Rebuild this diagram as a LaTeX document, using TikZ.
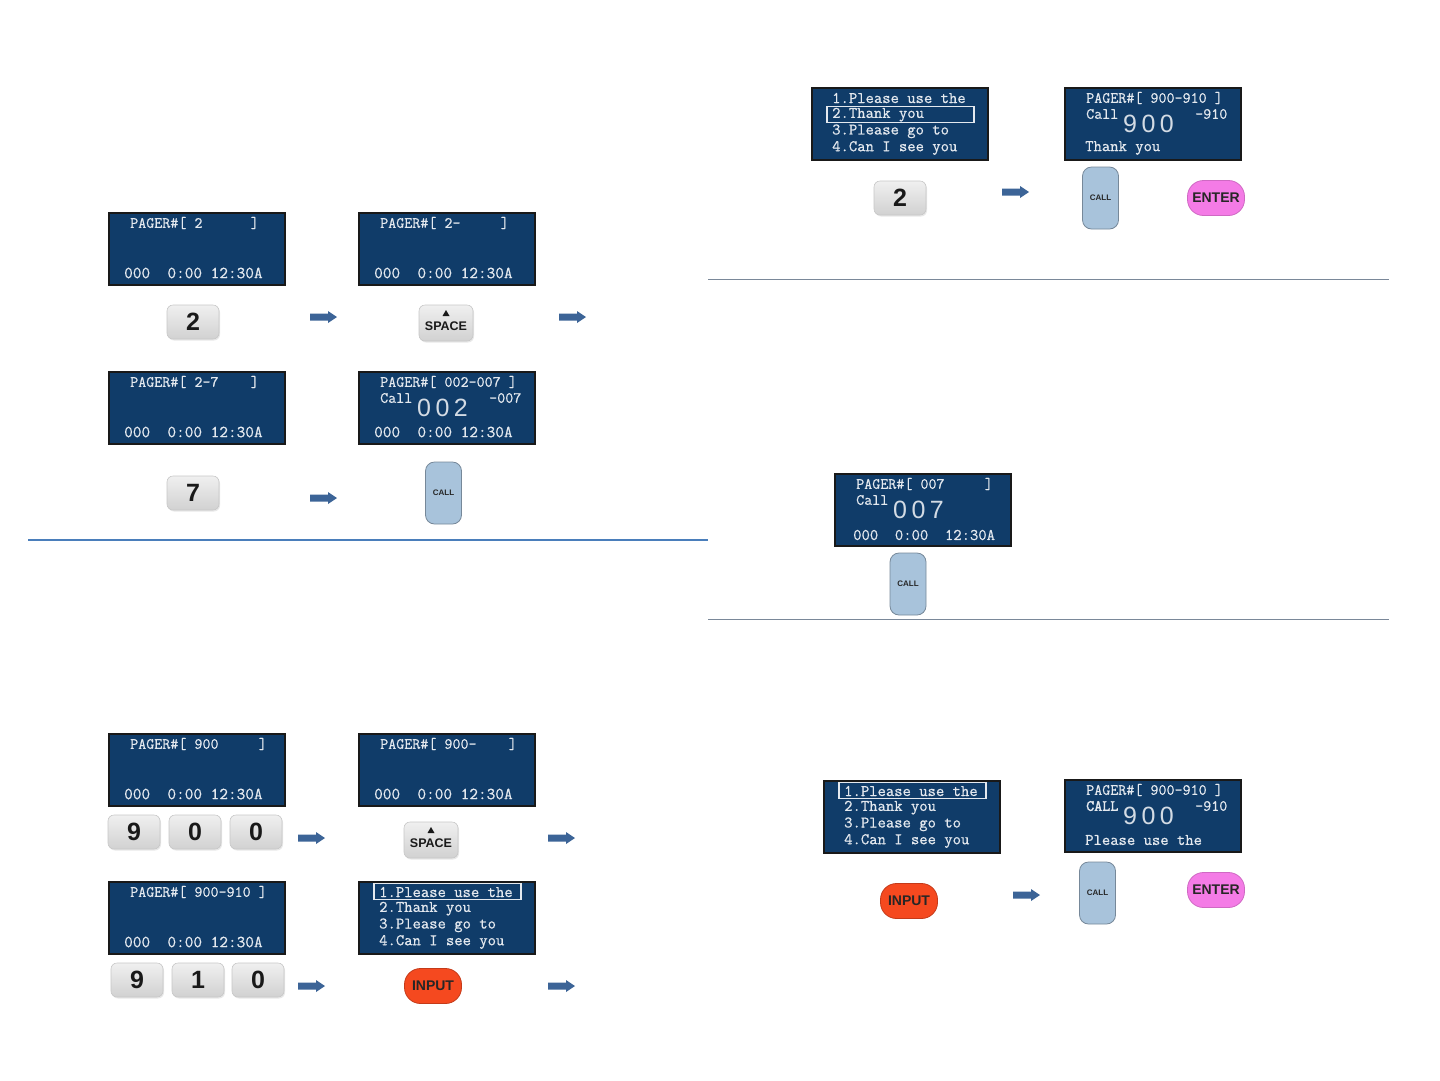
\documentclass[tikz,border=0pt]{standalone}
\usepackage{fontspec}
\usetikzlibrary{shadows}
\setmainfont{Liberation Sans}
\newfontfamily\lcdfont[FakeBold=0.6]{Latin Modern Mono}
\newfontfamily\lcdbold[FakeBold=2.2]{Latin Modern Mono}
\newfontfamily\bigfont{Liberation Sans}
\definecolor{lcdblue}{HTML}{103C69}
\definecolor{lcdtext}{HTML}{E4E9EF}
\definecolor{arrowblue}{HTML}{3C6497}
\definecolor{rulecol}{HTML}{4A7EBB}
\definecolor{thinrule}{HTML}{7A8899}
\definecolor{callblue}{HTML}{A8C3DB}
\definecolor{enterpink}{HTML}{F47BE6}
\definecolor{inputred}{HTML}{F5491F}

\tikzset{
 lcd/.style={draw=black!90, line width=1.5pt, fill=lcdblue, minimum width=176pt, minimum height=72pt, anchor=north west, inner sep=0pt},
 lcdt/.style={anchor=west, inner sep=0pt, text=lcdtext, font=\fontsize{15.6}{16}\lcdfont},
 lcdb/.style={lcdt, font=\fontsize{16.8}{17}\lcdfont},
 menut/.style={lcdt, font=\fontsize{16.2}{17}\lcdfont},
 bignum/.style={inner sep=0pt, text=lcdtext!92!lcdblue, font=\fontsize{25}{25}\bigfont},
 hl/.style={draw=lcdtext, line width=1.3pt},
 numkey/.style={rounded corners=6pt, minimum width=52pt, minimum height=34pt, top color=white!94!black, bottom color=white!82!black, draw=black!22, line width=0.6pt, drop shadow={opacity=0.18, shadow xshift=1pt, shadow yshift=-1.5pt}, font=\fontsize{25}{25}\selectfont\bfseries, text=black!90, inner sep=0pt},
 spacet/.style={inner sep=0pt, font=\fontsize{12.5}{12.5}\selectfont\bfseries, text=black!90},
 callkey/.style={rounded corners=9pt, minimum width=36pt, minimum height=62pt, fill=callblue, draw=callblue!70!black, line width=0.8pt, font=\fontsize{8}{8}\selectfont\bfseries, text=black!85, inner sep=0pt},
 pill/.style={rounded corners=16pt, minimum width=57pt, minimum height=35pt, line width=0.8pt, font=\fontsize{14}{14}\selectfont\bfseries, text=black!85, inner sep=0pt},
 enterkey/.style={pill, fill=enterpink, draw=enterpink!85!black},
 inputkey/.style={pill, fill=inputred, draw=inputred!80!black},
}

\newcommand\scrn[4]{%
 \node[lcd] (#1) at (#2,#3) {};
 \node[lcdt] (#1-t) at (#2+22,#3+11) {#4};
 \node[lcdb] (#1-b) at (#2+16,#3+61) {000~~0:00~12:30A};
}
\newcommand\callscrn[7]{%
 \node[lcd] (#1) at (#2,#3) {};
 \node[lcdt] (#1-t) at (#2+22,#3+11) {#4};
 \node[lcdt] (#1-c) at (#2+22,#3+27) {#5};
 \node[bignum] (#1-n) at (#2+84.5,#3+37) {#6};
 \node[lcdt] (#1-s) at (#2+131,#3+27) {#7};
}
\newcommand\menuscrn[4]{%
 \node[lcd] (#1) at (#2,#3) {};
 \node[menut] (#1-1) at (#2+21,#3+11) {1.Please~use~the};
 \node[menut] (#1-2) at (#2+21,#3+27.7) {2.Thank~you};
 \node[menut] (#1-3) at (#2+21,#3+44.3) {3.Please~go~to};
 \node[menut] (#1-4) at (#2+21,#3+61) {4.Can~I~see~you};
 \draw[hl] (#2+16,#3+#4*16.7-14) rectangle (#2+163,#3+#4*16.7+2);
}
\newcommand\bn[3]{#1\hspace{4.5pt}#2\hspace{4.5pt}#3}
\newcommand\rarrow[3]{%
 \coordinate (#1) at (#2,#3);
 \fill[arrowblue] (#1) ++(0,-3.5) -- ++(18,0) -- ++(0,-2.5) -- ++(9,6) -- ++(-9,6) -- ++(0,-2.5) -- ++(-18,0) -- cycle;
}
\newcommand\spacekey[3]{%
 \node[numkey, minimum width=54pt, minimum height=36pt] (#1) at (#2,#3) {};
 \fill[black!90] (#2-3.5,#3-7) -- (#2+3.5,#3-7) -- (#2,#3-13) -- cycle;
 \node[spacet] (#1-l) at (#2,#3+3.5) {SPACE};
}

\begin{document}
\begin{tikzpicture}[x=1pt,y=-1pt]
\useasboundingbox (0,0) rectangle (1440,1080);

% ---------- left upper panel ----------
\scrn{s1}{108}{212}{PAGER\#[~2~~~~~~]}
\scrn{s2}{358}{212}{PAGER\#[~2-~~~~~]}
\scrn{s3}{108}{371}{PAGER\#[~2-7~~~~]}
\callscrn{s4}{358}{371}{PAGER\#[~002-007~]}{Call}{\bn 002}{-007}
\node[lcdb] (s4-b) at (358+16,371+61) {000~~0:00~12:30A};

\node[numkey] (k2a) at (193,322) {2};
\spacekey{ksp1}{446}{323}
\node[numkey] (k7) at (193,493) {7};
\node[callkey] (call1) at (443.5,493) {CALL};

\rarrow{a1}{310}{317}
\rarrow{a2}{559}{317}
\rarrow{a3}{310}{498}

\draw[rulecol, line width=2pt] (28,540) coordinate (r1s) -- (708,540) coordinate (r1e);

% ---------- left lower panel ----------
\scrn{s5}{108}{733}{PAGER\#[~900~~~~~]}
\scrn{s6}{358}{733}{PAGER\#[~900-~~~~]}
\scrn{s7}{108}{881}{PAGER\#[~900-910~]}
\menuscrn{s8}{358}{881}{1}

\node[numkey] (k9a) at (134,832) {9};
\node[numkey] (k0a) at (195,832) {0};
\node[numkey] (k0b) at (256,832) {0};
\spacekey{ksp2}{431}{840}
\node[numkey] (k9b) at (137,980) {9};
\node[numkey] (k1) at (198,980) {1};
\node[numkey] (k0c) at (258,980) {0};
\node[inputkey] (in1) at (433,986) {INPUT};

\rarrow{a5}{298}{838}
\rarrow{a6}{548}{838}
\rarrow{a7}{298}{986}
\rarrow{a8}{548}{986}

% ---------- right upper panel ----------
\menuscrn{s9}{811}{87}{2}
\callscrn{s10}{1064}{87}{PAGER\#[~900-910~]}{Call}{\bn 900}{-910}
\node[menut] (s10-b) at (1064+21,87+61) {Thank~you};
\node[numkey] (k2b) at (900,198) {2};
\node[callkey] (call2) at (1100.5,198) {CALL};
\node[enterkey] (en1) at (1216,198) {ENTER};
\rarrow{a4}{1002}{192}

\draw[thinrule, line width=1pt] (708,279) coordinate (r2s) -- (1389,279) coordinate (r2e);

% ---------- right middle panel ----------
\callscrn{s11}{834}{473}{PAGER\#[~007~~~~~]}{Call}{\bn 007}{}
\node[lcdt, font=\fontsize{16.2}{17}\lcdfont] (s11-b) at (834+19,473+62) {000~~0:00~~12:30A};
\node[callkey] (call3) at (908,584) {CALL};

\draw[thinrule, line width=1pt] (708,619) coordinate (r3s) -- (1389,619) coordinate (r3e);

% ---------- right lower panel ----------
\menuscrn{s12}{823}{780}{1}
\callscrn{s13}{1064}{779}{PAGER\#[~900-910~]}{\lcdbold CALL}{\bn 900}{-910}
\node[menut] (s13-b) at (1064+21,779+61) {Please~use~the};
\node[inputkey] (in2) at (909,901) {INPUT};
\node[callkey] (call4) at (1097.5,893) {CALL};
\node[enterkey] (en2) at (1216,890) {ENTER};
\rarrow{a9}{1013}{895}

\end{tikzpicture}
\end{document}
